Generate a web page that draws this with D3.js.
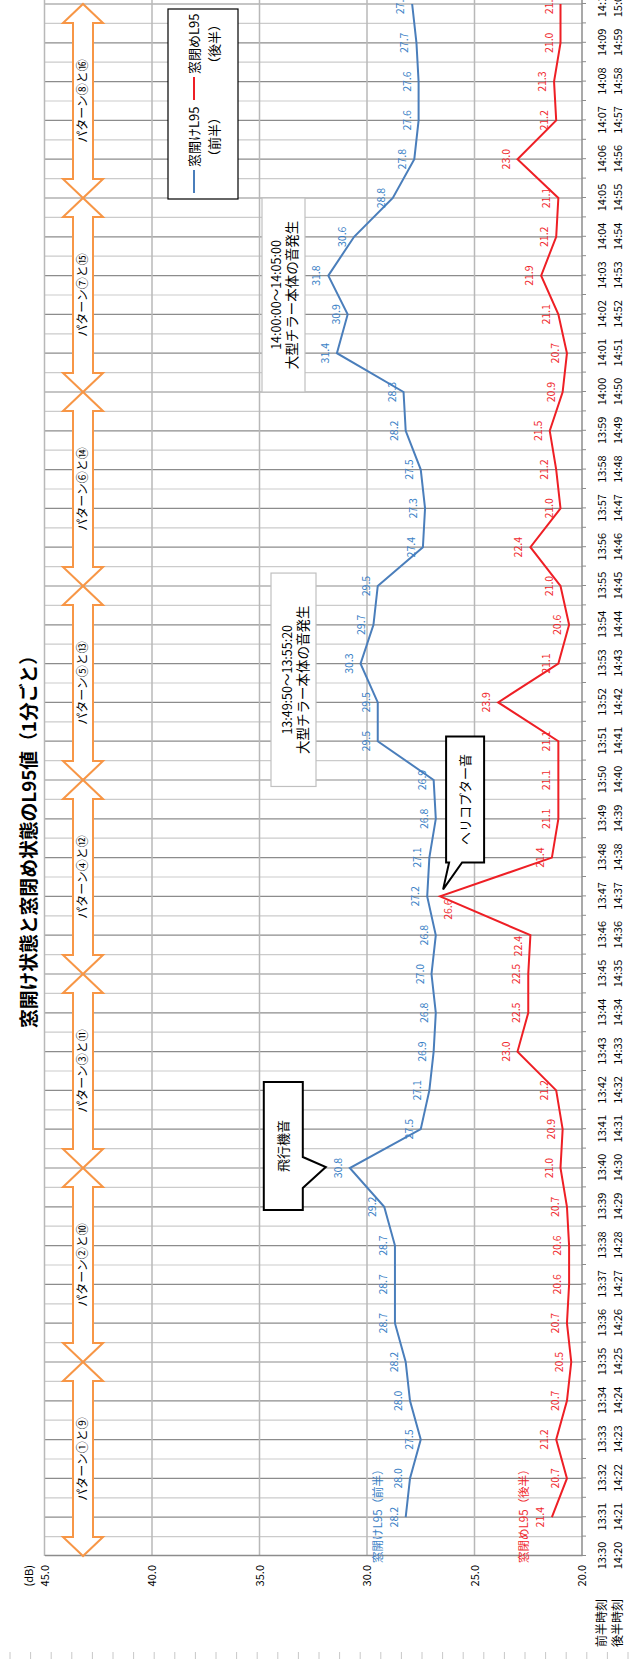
<!DOCTYPE html>
<html>
<head>
<meta charset="utf-8">
<script src="https://cdn.jsdelivr.net/npm/d3@7"></script>
<style>
  body { margin: 0; background: #fff; }
  svg { display: block; font-family: "Noto Sans CJK JP", "Noto Sans", sans-serif; }
</style>
</head>
<body>
<div id="chart"></div>
<script>
// time labels (index 0 = 13:30 / 14:20)
const firstTimes = ["13:30","13:31","13:32","13:33","13:34","13:35","13:36","13:37","13:38","13:39",
  "13:40","13:41","13:42","13:43","13:44","13:45","13:46","13:47","13:48","13:49",
  "13:50","13:51","13:52","13:53","13:54","13:55","13:56","13:57","13:58","13:59",
  "14:00","14:01","14:02","14:03","14:04","14:05","14:06","14:07","14:08","14:09","14:10"];
const secondTimes = ["14:20","14:21","14:22","14:23","14:24","14:25","14:26","14:27","14:28","14:29",
  "14:30","14:31","14:32","14:33","14:34","14:35","14:36","14:37","14:38","14:39",
  "14:40","14:41","14:42","14:43","14:44","14:45","14:46","14:47","14:48","14:49",
  "14:50","14:51","14:52","14:53","14:54","14:55","14:56","14:57","14:58","14:59","15:00"];

// L95 values, from the 2nd time label on
const openValues = [28.2, 28.0, 27.5, 28.0, 28.2, 28.7, 28.7, 28.7, 29.2, 30.8,
  27.5, 27.1, 26.9, 26.8, 27.0, 26.8, 27.2, 27.1, 26.8, 26.9,
  29.5, 29.5, 30.3, 29.7, 29.5, 27.4, 27.3, 27.5, 28.2, 28.3,
  31.4, 30.9, 31.8, 30.6, 28.8, 27.8, 27.6, 27.6, 27.7, 27.9];
const closedValues = [21.4, 20.7, 21.2, 20.7, 20.5, 20.7, 20.6, 20.6, 20.7, 21.0,
  20.9, 21.2, 23.0, 22.5, 22.5, 22.4, 26.6, 21.4, 21.1, 21.1,
  21.1, 23.9, 21.1, 20.6, 21.0, 22.4, 21.0, 21.2, 21.5, 20.9,
  20.7, 21.1, 21.9, 21.2, 21.1, 23.0, 21.2, 21.3, 21.0, 21.0];

const valueTicks = [45, 40, 35, 30, 25, 20];
const patternLabels = ["パターン①と⑨","パターン②と⑩","パターン③と⑪","パターン④と⑫",
  "パターン⑤と⑬","パターン⑥と⑭","パターン⑦と⑮","パターン⑧と⑯"];

const openName = "窓開けL95（前半）";
const closedName = "窓閉めL95（後半）";

const BLUE = "#4a7ebb", BLUE_TXT = "#3a7fc6";
const RED = "#ee1f25", RED_TXT = "#f0282d";
const ORANGE = "#f79646";

// chart is drawn unrotated (1659 wide, 630 tall) then turned 90deg ccw
const W = 1659, H = 630;
const svg = d3.select("#chart").append("svg").attr("width", H).attr("height", W);
svg.append("rect").attr("width", H).attr("height", W).attr("fill", "#fff");

// ruler marks along the bottom edge
svg.append("g").selectAll("line").data(d3.range(10, H, 20.6)).join("line")
  .attr("x1", d => d).attr("x2", d => d).attr("y1", W - 7).attr("y2", W)
  .attr("stroke", "#c8c8c8");

const g = svg.append("g").attr("transform", `translate(0,${W}) rotate(-90)`);

const x = d3.scaleLinear().domain([0, 40]).range([103, 1655]);
const y = d3.scaleLinear().domain([20, 45]).range([582, 44.5]);

// time grid (minute lines darker, half-minute lighter)
g.append("g").selectAll("line").data(d3.range(0.5, 41, 0.5)).join("line")
  .attr("x1", d => x(d)).attr("x2", d => x(d))
  .attr("y1", y(45)).attr("y2", y(20))
  .attr("stroke", d => d % 1 === 0 ? "#8c8c8c" : "#cbcbcb")
  .attr("stroke-width", 1.2);

// value grid
g.append("g").selectAll("line").data(valueTicks).join("line")
  .attr("x1", x(0)).attr("x2", W)
  .attr("y1", d => y(d)).attr("y2", d => y(d))
  .attr("stroke", d => d === 20 ? "#8c8c8c" : "#b8b8b8")
  .attr("stroke-width", 1.5);

// small ticks outside the 20 dB line
g.append("g").attr("transform", `translate(0,${y(20)})`)
  .call(d3.axisBottom(x).tickValues(d3.range(0, 40.5, 0.5)).tickSize(4).tickFormat(""))
  .call(a => a.select(".domain").remove())
  .call(a => a.selectAll("line").attr("stroke", "#8c8c8c"));

// two rows of time labels
function timeRow(labels, pad) {
  g.append("g").attr("transform", `translate(0,${y(20)})`)
    .call(d3.axisBottom(x).tickValues(d3.range(0, 41)).tickSize(0).tickPadding(pad)
      .tickFormat(i => labels[i]))
    .attr("font-family", null).attr("font-size", 11)
    .call(a => a.select(".domain").remove())
    .call(a => a.selectAll("text").attr("fill", "#000"));
}
timeRow(firstTimes, 16);
timeRow(secondTimes, 32);

g.append("text").attr("x", 12).attr("y", 606).attr("font-size", 12).text("前半時刻");
g.append("text").attr("x", 12).attr("y", 622).attr("font-size", 12).text("後半時刻");

// value axis
g.append("g").attr("transform", `translate(${x(0)},0)`)
  .call(d3.axisLeft(y).tickValues(valueTicks).tickSize(0).tickSizeOuter(0).tickPadding(9)
    .tickFormat(d3.format(".1f")))
  .attr("font-family", null).attr("font-size", 11)
  .call(a => a.select(".domain").attr("stroke", "#8c8c8c").attr("stroke-width", 1.5))
  .call(a => a.selectAll("text").attr("fill", "#000"));
g.append("text").attr("x", x(0) - 9).attr("y", y(45) - 12).attr("text-anchor", "end")
  .attr("font-size", 11).text("(dB)");

// title
g.append("text").attr("x", 822).attr("y", 36).attr("text-anchor", "middle")
  .attr("font-size", 18.8).attr("font-weight", "bold")
  .text("窓開け状態と窓閉め状態のL95値（1分ごと）");

// pattern arrows
const hl = 19, hw = 20, sw = 10, cy = 83;
const arrows = g.append("g").selectAll("g").data(patternLabels).join("g");
arrows.append("path")
  .attr("d", (d, k) => {
    const x1 = x(k * 5), x2 = x(k * 5 + 5);
    return `M${x1},${cy} L${x1 + hl},${cy - hw} L${x1 + hl},${cy - sw} L${x2 - hl},${cy - sw}
      L${x2 - hl},${cy - hw} L${x2},${cy} L${x2 - hl},${cy + hw} L${x2 - hl},${cy + sw}
      L${x1 + hl},${cy + sw} L${x1 + hl},${cy + hw} Z`;
  })
  .attr("fill", "#fff").attr("stroke", ORANGE).attr("stroke-width", 2);
arrows.append("text")
  .attr("x", (d, k) => x(k * 5 + 2.5)).attr("y", cy)
  .attr("dy", "0.36em").attr("text-anchor", "middle").attr("font-size", 12)
  .text(d => d);

// series lines
const openPts = openValues.map((v, k) => ({ i: k + 1, v }));
const closedPts = closedValues.map((v, k) => ({ i: k + 1, v }));
const line = d3.line().x(d => x(d.i)).y(d => y(d.v));

g.append("path").datum(openPts).attr("d", line)
  .attr("fill", "none").attr("stroke", BLUE).attr("stroke-width", 2);
g.append("path").datum(closedPts).attr("d", line)
  .attr("fill", "none").attr("stroke", RED).attr("stroke-width", 2);

// value labels
g.append("g").selectAll("text").data(openPts).join("text")
  .attr("x", d => x(d.i)).attr("y", d => y(d.v) - 8)
  .attr("text-anchor", "middle").attr("font-size", 10.5).attr("fill", BLUE_TXT)
  .text(d => d3.format(".1f")(d.v));

g.append("g").selectAll("text").data(closedPts).join("text")
  .attr("x", d => {
    if (d.i === 17) return x(d.i) - 3;
    if (d.i === 16) return x(d.i) - 11;
    return x(d.i);
  })
  .attr("y", d => d.i === 17 ? y(d.v) + 12 : y(d.v) - 8)
  .attr("text-anchor", d => d.i === 17 ? "end" : "middle")
  .attr("font-size", 10.5).attr("fill", RED_TXT)
  .text(d => d3.format(".1f")(d.v));

// series names by the first point
g.append("text").attr("x", x(0) - 7).attr("y", y(openValues[0]) - 24)
  .attr("font-size", 11.5).attr("fill", BLUE_TXT).text(openName);
g.append("text").attr("x", x(0) - 7).attr("y", y(closedValues[0]) - 24)
  .attr("font-size", 11.5).attr("fill", RED_TXT).text(closedName);

// text boxes for chiller noise
function noteBox(t0, t1, top, bottom, lines) {
  g.append("rect").attr("x", x(t0)).attr("y", top)
    .attr("width", x(t1) - x(t0)).attr("height", bottom - top)
    .attr("fill", "#fff").attr("stroke", "#c0c0c0").attr("stroke-width", 1.2);
  lines.forEach(l => {
    g.append("text").attr("x", (x(t0) + x(t1)) / 2).attr("y", l.y)
      .attr("text-anchor", "middle").attr("font-size", l.size).text(l.text);
  });
}
noteBox(19 + 50 / 60, 25 + 20 / 60, 271, 316, [
  { text: "13:49:50～13:55:20", y: 292, size: 12.5 },
  { text: "大型チラー本体の音発生", y: 308, size: 13.5 }
]);
noteBox(30, 35, 262, 305, [
  { text: "14:00:00～14:05:00", y: 281, size: 12.5 },
  { text: "大型チラー本体の音発生", y: 297, size: 13.5 }
]);

// callouts
function calloutPath(p0, pts) {
  return "M" + [p0, ...pts].map(q => q.join(",")).join(" L") + " Z";
}
{
  const px = x(10), py = y(openValues[9]);
  const x0 = px - 42, x1 = px + 86, y0 = py - 86, y1 = py - 47;
  g.append("path")
    .attr("d", calloutPath([x0, y0], [[x1, y0], [x1, y1], [px + 11, y1], [px + 1, py - 24], [px - 20, y1], [x0, y1]]))
    .attr("fill", "#fff").attr("stroke", "#000").attr("stroke-width", 2);
  g.append("text").attr("x", (x0 + x1) / 2).attr("y", (y0 + y1) / 2).attr("dy", "0.36em")
    .attr("text-anchor", "middle").attr("font-size", 13).text("飛行機音");
}
{
  const px = x(17), py = y(closedValues[16]);
  const x0 = px + 34, x1 = px + 160, y0 = py + 6, y1 = py + 44;
  g.append("path")
    .attr("d", calloutPath([x0, y0], [[x1, y0], [x1, y1], [x0, y1], [x0, py + 22], [px + 7, py + 3], [x0, py + 9]]))
    .attr("fill", "#fff").attr("stroke", "#000").attr("stroke-width", 2);
  g.append("text").attr("x", (x0 + x1) / 2).attr("y", (y0 + y1) / 2).attr("dy", "0.36em")
    .attr("text-anchor", "middle").attr("font-size", 13).text("ヘリコプター音");
}

// legend
{
  const lg = g.append("g");
  lg.append("rect").attr("x", 1460).attr("y", 168).attr("width", 190).attr("height", 70)
    .attr("fill", "#fff").attr("stroke", "#000").attr("stroke-width", 1.2);
  const items = [
    { name: openName, color: BLUE, lx: 1466 },
    { name: closedName, color: RED, lx: 1559 }
  ];
  items.forEach(it => {
    const main = it.name.replace(/（.*$/, "");
    const sub = it.name.slice(main.length);
    lg.append("line").attr("x1", it.lx).attr("x2", it.lx + 23).attr("y1", 194).attr("y2", 194)
      .attr("stroke", it.color).attr("stroke-width", 2);
    lg.append("text").attr("x", it.lx + 26).attr("y", 194).attr("dy", "0.36em")
      .attr("font-size", 13).text(main);
    lg.append("text").attr("x", it.lx + 56).attr("y", 214).attr("dy", "0.36em")
      .attr("text-anchor", "middle").attr("font-size", 13).text(sub);
  });
}
</script>
</body>
</html>
